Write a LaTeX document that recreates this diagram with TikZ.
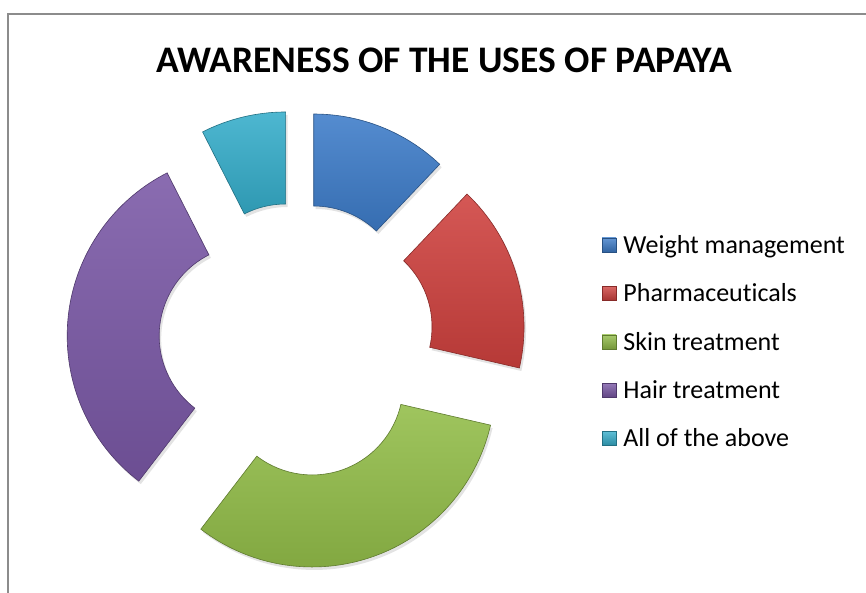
\documentclass[tikz,border=0pt]{standalone}
\usepackage{fontspec}
\setmainfont{Carlito}[Ligatures={NoCommon}]
\usetikzlibrary{positioning,shadows}
\definecolor{wmblue}{HTML}{3D7CC9}
\definecolor{phred}{HTML}{CF413E}
\definecolor{skgreen}{HTML}{92BD48}
\definecolor{hrpurple}{HTML}{7A58A6}
\definecolor{abcyan}{HTML}{35ADCA}
\definecolor{frame}{HTML}{8C8C8C}
\tikzset{
  seg/.style={top color=#1!88!white, bottom color=#1!88!black, draw=#1!65!black, line width=0.6pt,
    drop shadow={shadow xshift=2pt, shadow yshift=-3pt, opacity=0.22}},
  key/.style={draw=#1!65!black, top color=#1!80!white, bottom color=#1!80!black, minimum size=14pt, inner sep=0pt},
  keytext/.style={font=\fontsize{26}{30}\selectfont, inner sep=0pt, anchor=base west}
}
\begin{document}
\begin{tikzpicture}[x=1pt,y=1pt]
    \useasboundingbox (0,0) rectangle (866,592);
    \fill[white] (0,0) rectangle (866,592);
    \draw[frame, line width=1.5pt] (8,-5) -- (8,578) -- (875,578);
    \node[font=\fontsize{37.5}{42}\selectfont\bfseries] (title) at (444,532) {AWARENESS OF THE USES OF PAPAYA};

  \begin{scope}[shift={(296.5,251.8)}]
    \begin{scope}[shift={(68.25:46.5)}]
      \path[seg=wmblue] (90:183) arc (90:46.5:183) -- (46.5:91) arc (46.5:90:91) -- cycle;
    \end{scope}
    \begin{scope}[shift={(16.75:46.5)}]
      \path[seg=phred] (46.5:183) arc (46.5:-13:183) -- (-13:91) arc (-13:46.5:91) -- cycle;
    \end{scope}
    \begin{scope}[shift={(-70.25:46.5)}]
      \path[seg=skgreen] (-13:183) arc (-13:-127.5:183) -- (-127.5:91) arc (-127.5:-13:91) -- cycle;
    \end{scope}
    \begin{scope}[shift={(174.75:46.5)}]
      \path[seg=hrpurple] (232.5:183) arc (232.5:117:183) -- (117:91) arc (117:232.5:91) -- cycle;
    \end{scope}
    \begin{scope}[shift={(103.5:46.5)}]
      \path[seg=abcyan] (117:183) arc (117:90:183) -- (90:91) arc (90:117:91) -- cycle;
    \end{scope}
  \end{scope}

    \node[key=wmblue] (wm key) at (609,347) {};
    \node[key=phred, below=34pt of wm key] (ph key) {};
    \node[key=skgreen, below=34pt of ph key] (sk key) {};
    \node[key=hrpurple, below=34pt of sk key] (hr key) {};
    \node[key=abcyan, below=34pt of hr key] (ab key) {};
    \node[keytext] (wm text) at ([xshift=7pt,yshift=-8.3pt]wm key.east) {Weight management};
    \node[keytext] (ph text) at ([xshift=7pt,yshift=-8.3pt]ph key.east) {Pharmaceuticals};
    \node[keytext] (sk text) at ([xshift=7pt,yshift=-8.3pt]sk key.east) {Skin treatment};
    \node[keytext] (hr text) at ([xshift=7pt,yshift=-8.3pt]hr key.east) {Hair treatment};
    \node[keytext] (ab text) at ([xshift=7pt,yshift=-8.3pt]ab key.east) {All of the above};
  \end{tikzpicture}
\end{document}
